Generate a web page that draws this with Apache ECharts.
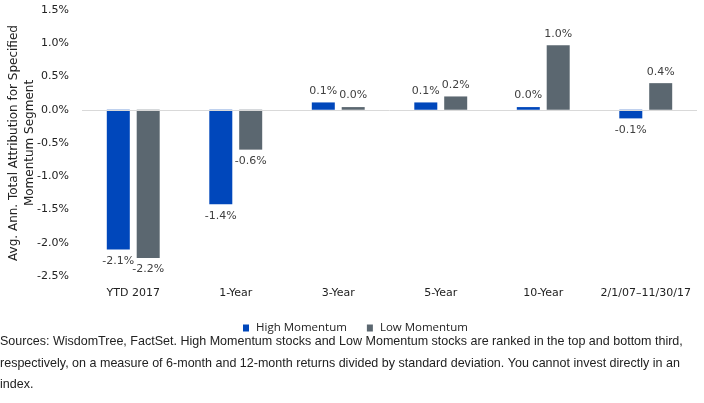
<!DOCTYPE html>
<html>
<head>
<meta charset="utf-8">
<script src="https://cdn.jsdelivr.net/npm/echarts@6/dist/echarts.min.js"></script>
<style>
  html, body { margin: 0; padding: 0; background: #fff; }
  #chart { width: 704px; height: 403px; }
</style>
</head>
<body>
<div id="chart"></div>
<script>
// data
const categories = ['YTD 2017', '1-Year', '3-Year', '5-Year', '10-Year', '2/1/07\u201311/30/17']
const highMomentum = [-2.1, -1.42, 0.11, 0.11, 0.04, -0.13]
const lowMomentum = [-2.23, -0.6, 0.04, 0.2, 0.97, 0.4]
const yTicks = { min: -2.5, max: 1.5, step: 0.5 }

const chart = echarts.init(document.getElementById('chart'))

const labelStyle = {
  show: true,
  fontFamily: 'DejaVu Sans',
  fontSize: 11,
  color: '#404040',
  distance: 6,
  formatter: p => p.value.toFixed(1) + '%'
}

const makeSeries = (name, data, color, withZeroLine) => {
  const s = {
    name,
    type: 'bar',
    data: data.map(v => ({
      value: v,
      label: { position: v < 0 ? 'bottom' : 'top' }
    })),
    barWidth: 23,
    barGap: '30%',
    itemStyle: { color },
    label: labelStyle
  }
  if (withZeroLine) {
    s.markLine = {
      silent: true,
      symbol: 'none',
      label: { show: false },
      lineStyle: { color: '#d9d9d9', type: 'solid', width: 1 },
      data: [{ yAxis: 0 }]
    }
  }
  return s
}

chart.setOption({
  animation: false,
  grid: { left: 82, right: 7, top: 10, bottom: 127, outerBoundsMode: 'none' },
  legend: {
    data: ['High Momentum', 'Low Momentum'],
    left: 238,
    top: 317,
    itemWidth: 6,
    itemHeight: 7,
    itemGap: 20,
    icon: 'rect',
    textStyle: { fontFamily: 'Open Sans', fontSize: 11.5, color: '#222', padding: [0, 0, 0, 2] }
  },
  xAxis: {
    type: 'category',
    data: categories,
    axisLine: { show: false, onZero: false },
    axisTick: { show: false },
    axisLabel: { interval: 0, fontFamily: 'DejaVu Sans', fontSize: 11, color: '#222', margin: 12 }
  },
  yAxis: {
    type: 'value',
    min: yTicks.min,
    max: yTicks.max,
    interval: yTicks.step,
    name: 'Avg. Ann. Total Attribution for Specified\nMomentum Segment',
    nameLocation: 'middle',
    nameGap: 44,
    nameMoveOverlap: false,
    nameTextStyle: { fontFamily: 'DejaVu Sans', fontSize: 12, color: '#222', lineHeight: 16 },
    splitLine: { show: false },
    axisLine: { show: false },
    axisTick: { show: false },
    axisLabel: {
      fontFamily: 'DejaVu Sans', fontSize: 11, color: '#222', margin: 13,
      formatter: v => v.toFixed(1) + '%'
    }
  },
  series: [
    makeSeries('High Momentum', highMomentum, '#0047BB', true),
    makeSeries('Low Momentum', lowMomentum, '#5B6770', false)
  ],
  graphic: [{
    type: 'text',
    x: 0,
    y: 331,
    scaleX: 0.963,
    style: {
      text: 'Sources: WisdomTree, FactSet. High Momentum stocks and Low Momentum stocks are ranked in the top and bottom third,\n' +
        'respectively, on a measure of 6-month and 12-month returns divided by standard deviation. You cannot invest directly in an\n' +
        'index.',
      font: '13px "Liberation Sans", Arial',
      fill: '#222',
      lineHeight: 21.5
    }
  }]
})
</script>
</body>
</html>
